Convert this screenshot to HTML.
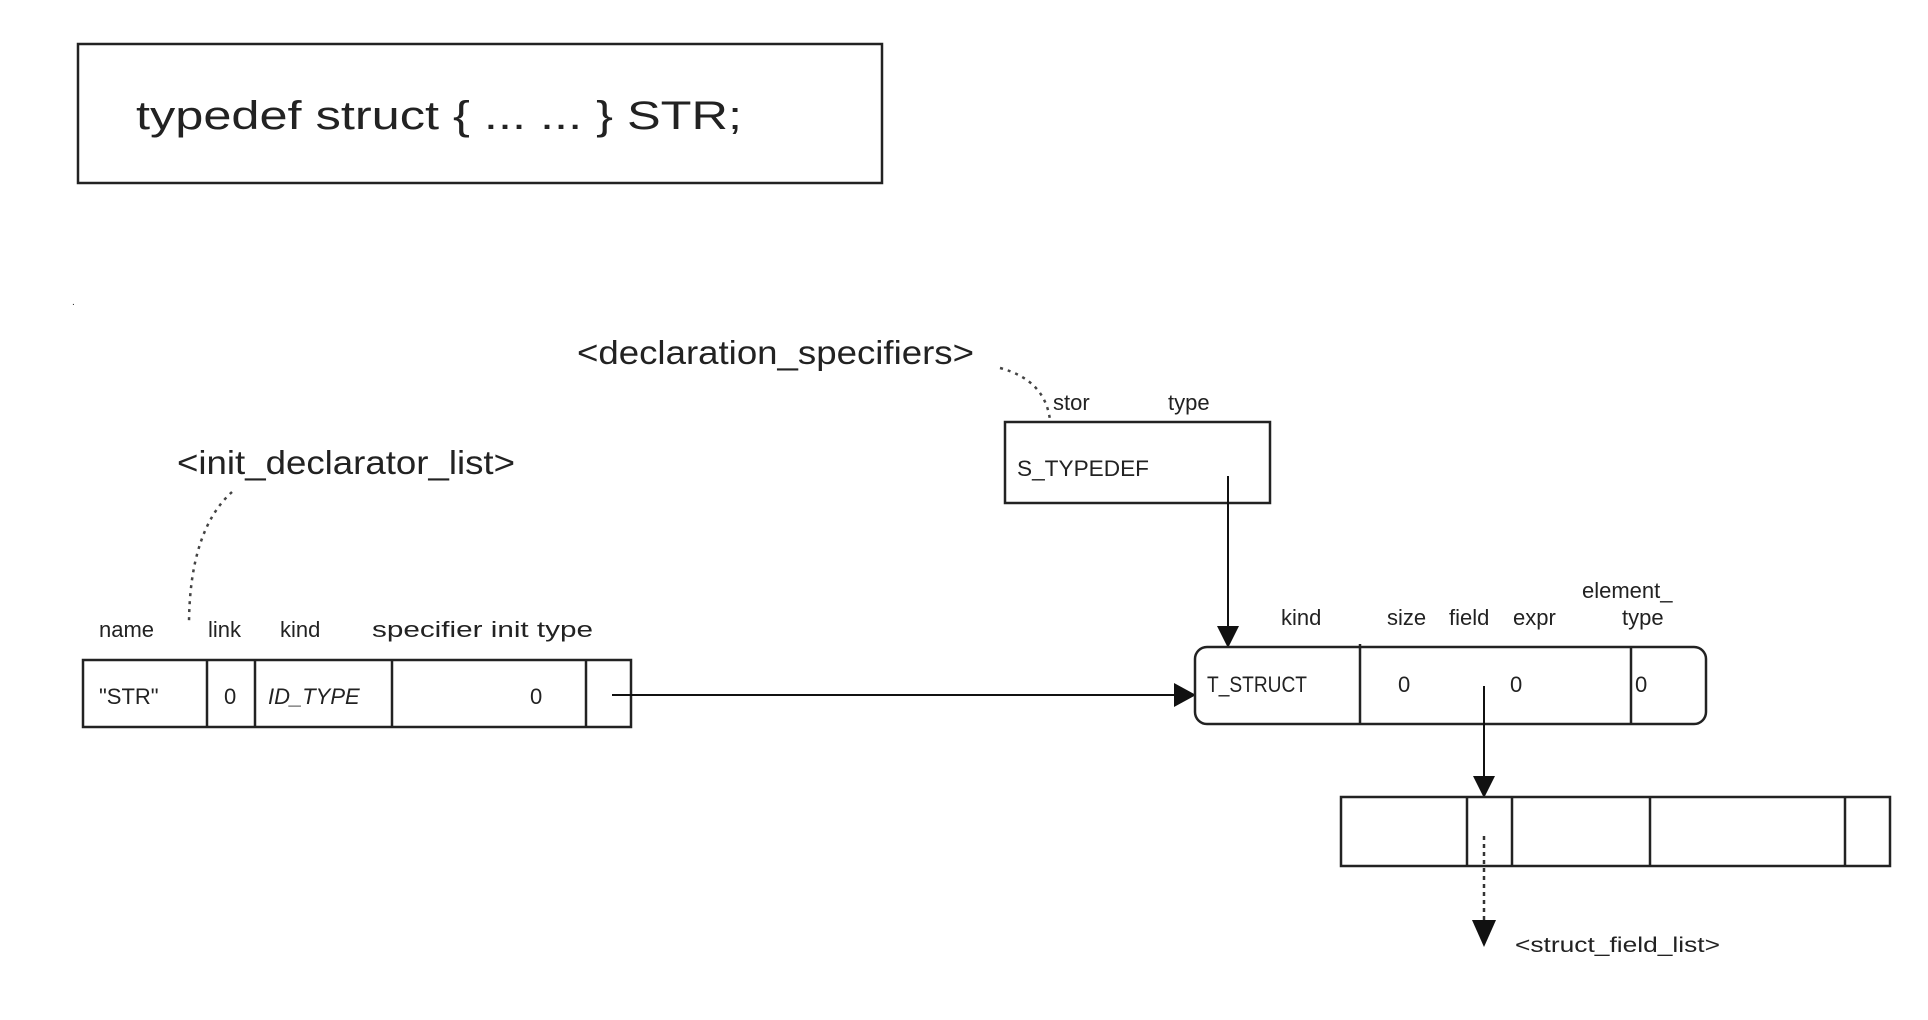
<!DOCTYPE html>
<html><head><meta charset="utf-8"><style>
html,body{margin:0;padding:0;background:#fff;}
svg{display:block;}
text{font-family:"Liberation Sans","DejaVu Sans",sans-serif;fill:#222;}
</style></head><body>
<svg width="1928" height="1020" viewBox="0 0 1928 1020" xmlns="http://www.w3.org/2000/svg">
<rect x="0" y="0" width="1928" height="1020" fill="#fff"/>
<!-- top box -->
<rect x="78" y="44" width="804" height="139" fill="none" stroke="#222" stroke-width="2.5"/>
<text x="136" y="129" font-size="40" textLength="606" lengthAdjust="spacingAndGlyphs">typedef struct {   ...   ... } STR;</text>
<text x="72" y="305" font-size="10" fill="#bbb">.</text>

<!-- declaration specifiers -->
<text x="577" y="364" font-size="33" textLength="397" lengthAdjust="spacingAndGlyphs">&lt;declaration_specifiers&gt;</text>
<path d="M1000 368 Q1045 380 1050 420" fill="none" stroke="#444" stroke-width="2.5" stroke-dasharray="3,5"/>
<text x="1053" y="410" font-size="22">stor</text>
<text x="1168" y="410" font-size="22">type</text>
<rect x="1005" y="422" width="265" height="81" fill="none" stroke="#222" stroke-width="2.5"/>
<text x="1017" y="476" font-size="22" textLength="132" lengthAdjust="spacingAndGlyphs">S_TYPEDEF</text>
<line x1="1228" y1="476" x2="1228" y2="628" stroke="#111" stroke-width="2"/>
<polygon points="1217,626 1239,626 1228,648" fill="#111"/>

<!-- init declarator list -->
<text x="177" y="474" font-size="33" textLength="338" lengthAdjust="spacingAndGlyphs">&lt;init_declarator_list&gt;</text>
<path d="M232 492 Q190 530 189 622" fill="none" stroke="#444" stroke-width="2.5" stroke-dasharray="3,5"/>
<text x="99" y="637" font-size="22">name</text>
<text x="208" y="637" font-size="22">link</text>
<text x="280" y="637" font-size="22">kind</text>
<text x="372" y="637" font-size="22" textLength="221" lengthAdjust="spacingAndGlyphs">specifier init type</text>
<rect x="83" y="660" width="548" height="67" fill="none" stroke="#222" stroke-width="2.5"/>
<line x1="207" y1="660" x2="207" y2="727" stroke="#222" stroke-width="2.5"/>
<line x1="255" y1="660" x2="255" y2="727" stroke="#222" stroke-width="2.5"/>
<line x1="392" y1="660" x2="392" y2="727" stroke="#222" stroke-width="2.5"/>
<line x1="586" y1="660" x2="586" y2="727" stroke="#222" stroke-width="2.5"/>
<text x="99" y="704" font-size="22">"STR"</text>
<text x="224" y="704" font-size="22">0</text>
<text x="268" y="704" font-size="22" font-style="italic">ID_TYPE</text>
<text x="530" y="704" font-size="22">0</text>
<line x1="612" y1="695" x2="1176" y2="695" stroke="#111" stroke-width="2"/>
<polygon points="1174,683 1174,707 1196,695" fill="#111"/>

<!-- T_STRUCT box -->
<text x="1281" y="625" font-size="22">kind</text>
<text x="1387" y="625" font-size="22">size</text>
<text x="1449" y="625" font-size="22">field</text>
<text x="1513" y="625" font-size="22">expr</text>
<text x="1582" y="598" font-size="22">element_</text>
<text x="1622" y="625" font-size="22">type</text>
<rect x="1195" y="647" width="511" height="77" rx="12" ry="12" fill="none" stroke="#222" stroke-width="2.5"/>
<line x1="1360" y1="644" x2="1360" y2="724" stroke="#222" stroke-width="2.5"/>
<line x1="1631" y1="647" x2="1631" y2="724" stroke="#222" stroke-width="2.5"/>
<text x="1207" y="692" font-size="22" textLength="100" lengthAdjust="spacingAndGlyphs">T_STRUCT</text>
<text x="1398" y="692" font-size="22">0</text>
<text x="1510" y="692" font-size="22">0</text>
<text x="1635" y="692" font-size="22">0</text>
<line x1="1484" y1="686" x2="1484" y2="778" stroke="#111" stroke-width="2"/>
<polygon points="1473,776 1495,776 1484,798" fill="#111"/>

<!-- bottom table -->
<rect x="1341" y="797" width="549" height="69" fill="none" stroke="#222" stroke-width="2.5"/>
<line x1="1467" y1="797" x2="1467" y2="866" stroke="#222" stroke-width="2.5"/>
<line x1="1512" y1="797" x2="1512" y2="866" stroke="#222" stroke-width="2.5"/>
<line x1="1650" y1="797" x2="1650" y2="866" stroke="#222" stroke-width="2.5"/>
<line x1="1845" y1="797" x2="1845" y2="866" stroke="#222" stroke-width="2.5"/>
<line x1="1484" y1="836" x2="1484" y2="922" stroke="#333" stroke-width="2.5" stroke-dasharray="4,4"/>
<polygon points="1472,920 1496,920 1484,947" fill="#111"/>
<text x="1515" y="952" font-size="21" textLength="205" lengthAdjust="spacingAndGlyphs">&lt;struct_field_list&gt;</text>
</svg>
</body></html>
